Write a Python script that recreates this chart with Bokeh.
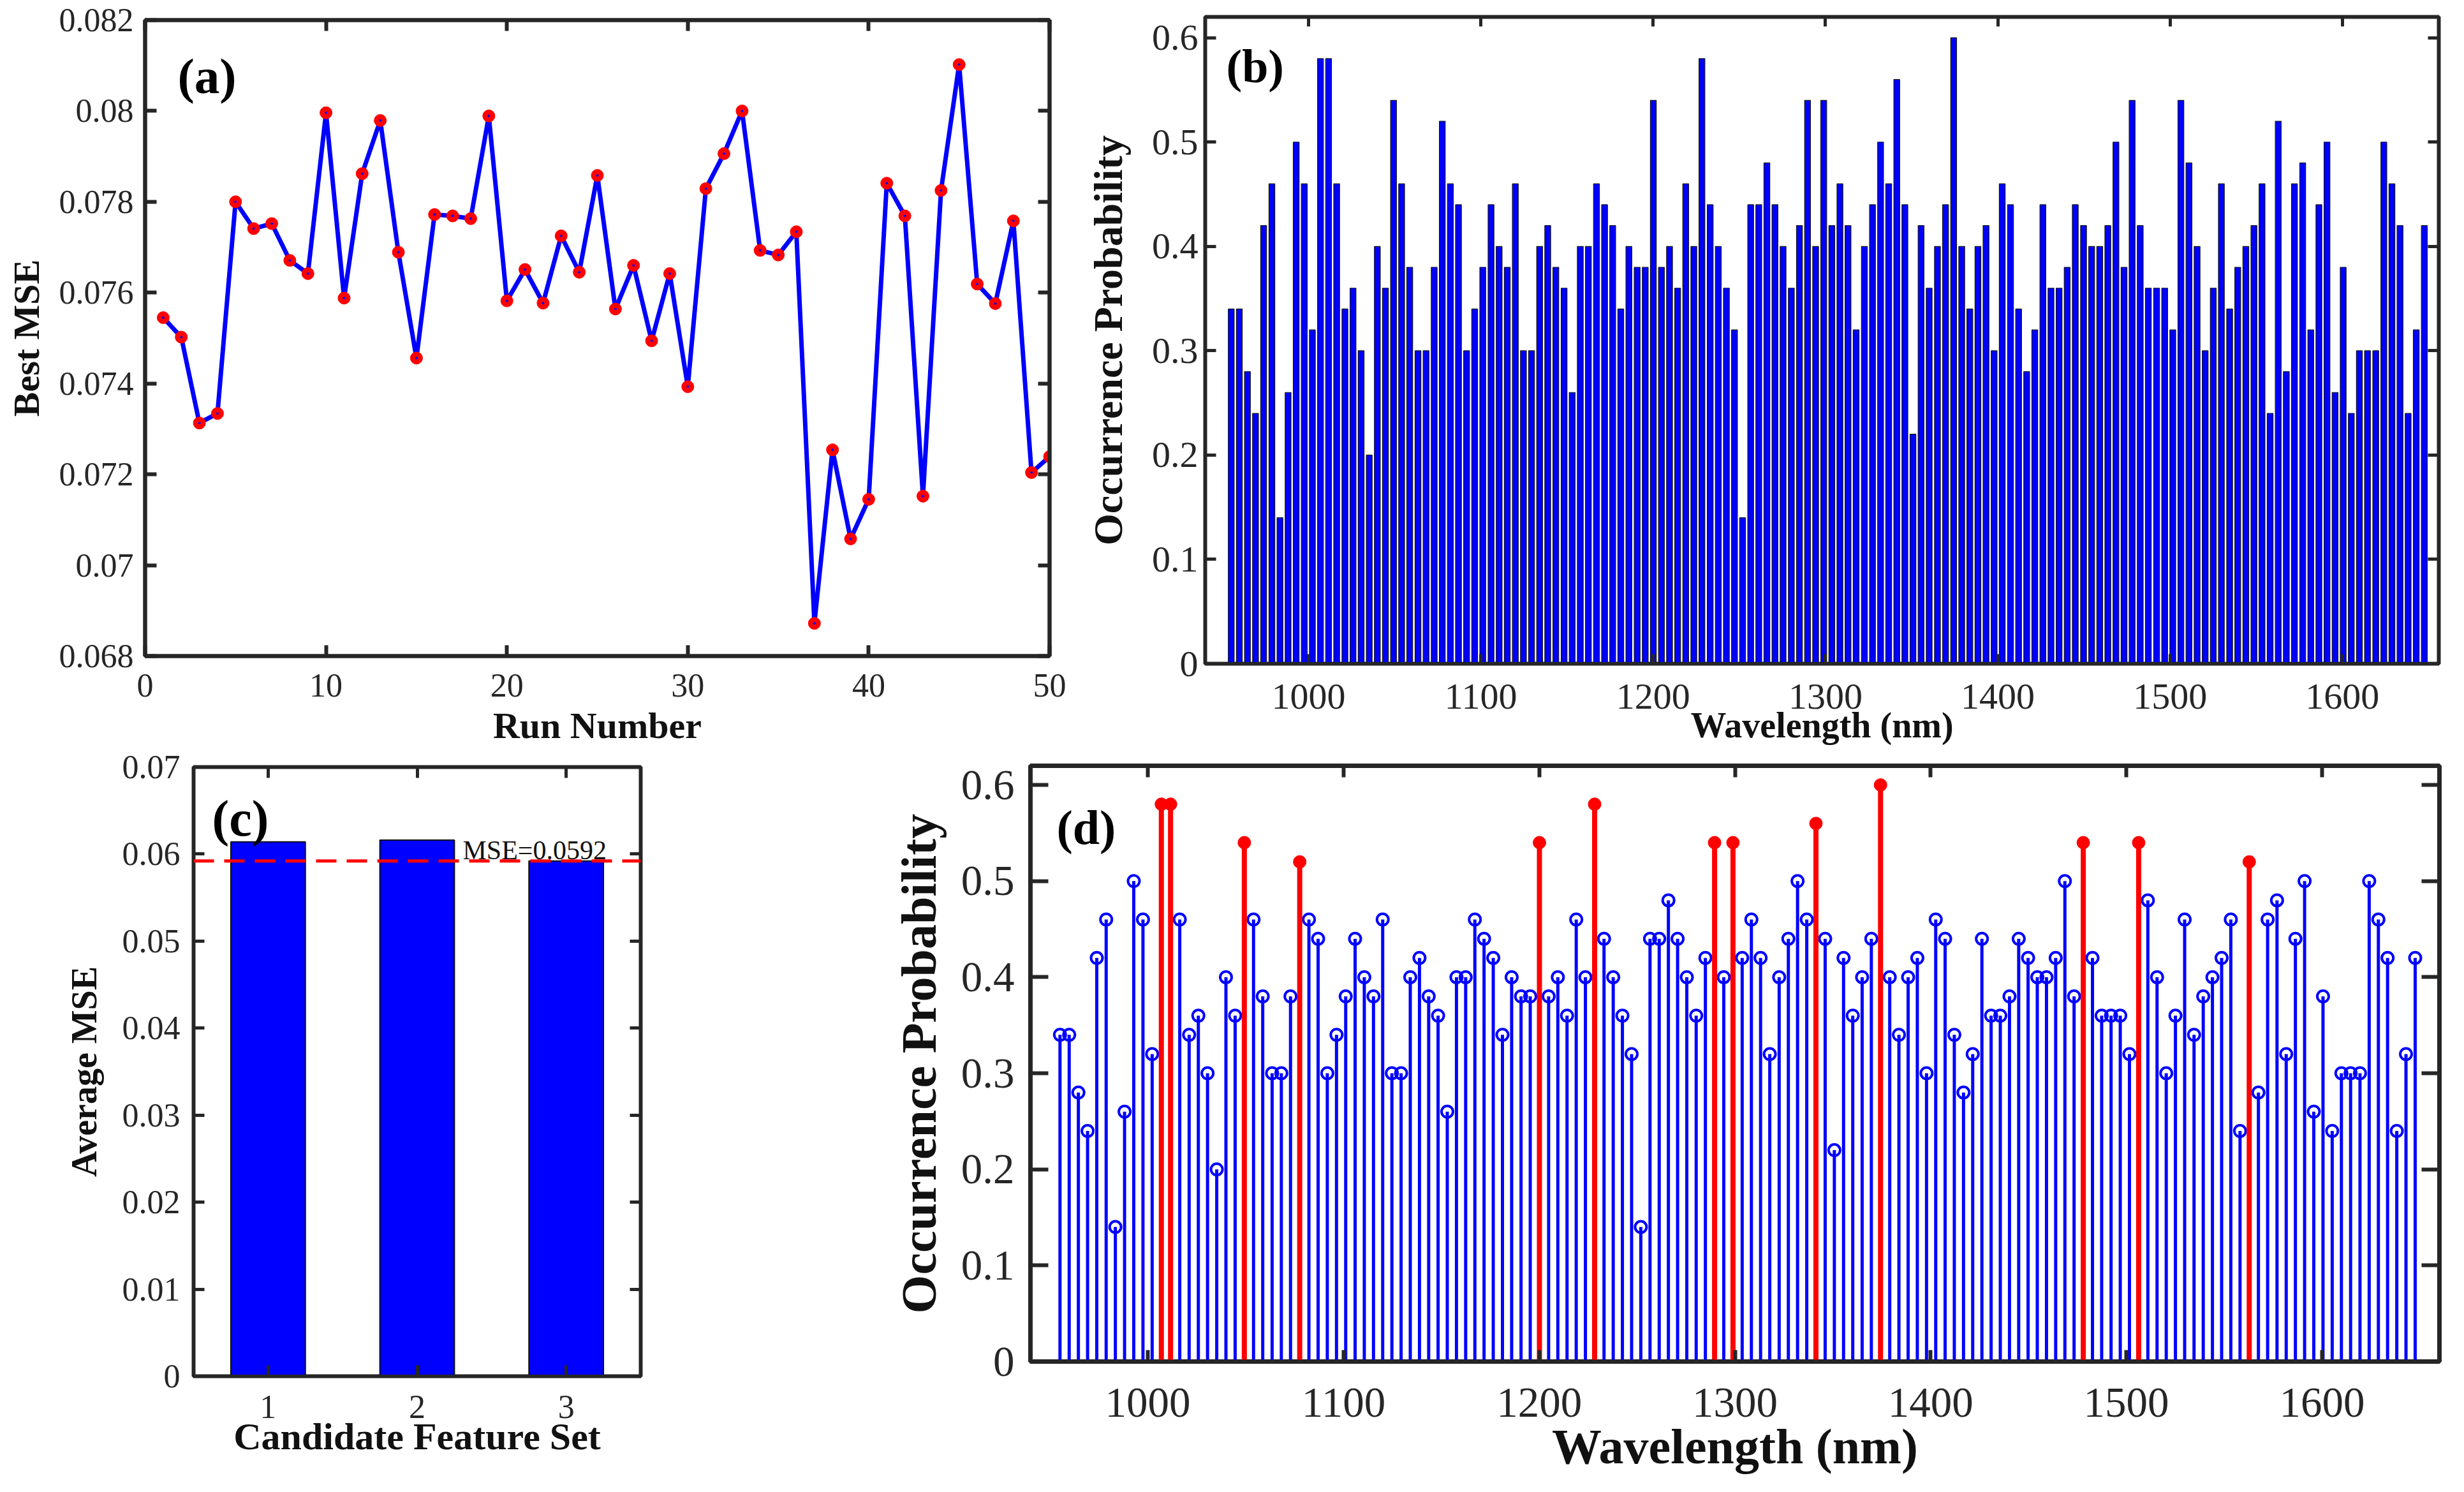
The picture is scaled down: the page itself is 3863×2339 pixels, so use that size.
from bokeh.plotting import figure
from bokeh.layouts import column, row
from bokeh.models import (LinearAxis, FixedTicker, Label, Span, ColumnDataSource,
                          Range1d, CustomJSTickFormatter)
from bokeh.embed import file_html
from bokeh.resources import INLINE

# ---------------- data ----------------
run_number = list(range(1, 51))
best_mse = [0.07545, 0.07502, 0.07313, 0.07334, 0.07800, 0.07741, 0.07752, 0.07671, 0.07642, 0.07996,
            0.07588, 0.07862, 0.07979, 0.07689, 0.07456, 0.07772, 0.07769, 0.07763, 0.07989, 0.07582,
            0.07651, 0.07577, 0.07725, 0.07645, 0.07858, 0.07564, 0.07660, 0.07494, 0.07642, 0.07393,
            0.07829, 0.07906, 0.08000, 0.07693, 0.07683, 0.07734, 0.06872, 0.07254, 0.07058, 0.07145,
            0.07841, 0.07769, 0.07152, 0.07825, 0.08102, 0.07619, 0.07576, 0.07758, 0.07204, 0.07239]

wavelength_nm = [955.1, 959.8, 964.5, 969.2, 973.9, 978.7, 983.4, 988.1, 992.8, 997.5,
                 1002.2, 1006.9, 1011.6, 1016.3, 1021.1, 1025.8, 1030.5, 1035.2, 1039.9, 1044.6,
                 1049.3, 1054.0, 1058.7, 1063.5, 1068.2, 1072.9, 1077.6, 1082.3, 1087.0, 1091.7,
                 1096.4, 1101.1, 1105.9, 1110.6, 1115.3, 1120.0, 1124.7, 1129.4, 1134.1, 1138.8,
                 1143.5, 1148.3, 1153.0, 1157.7, 1162.4, 1167.1, 1171.8, 1176.5, 1181.2, 1185.9,
                 1190.7, 1195.4, 1200.1, 1204.8, 1209.5, 1214.2, 1218.9, 1223.6, 1228.3, 1233.1,
                 1237.8, 1242.5, 1247.2, 1251.9, 1256.6, 1261.3, 1266.0, 1270.7, 1275.4, 1280.2,
                 1284.9, 1289.6, 1294.3, 1299.0, 1303.7, 1308.4, 1313.1, 1317.8, 1322.6, 1327.3,
                 1332.0, 1336.7, 1341.4, 1346.1, 1350.8, 1355.5, 1360.2, 1365.0, 1369.7, 1374.4,
                 1379.1, 1383.8, 1388.5, 1393.2, 1397.9, 1402.6, 1407.4, 1412.1, 1416.8, 1421.5,
                 1426.2, 1430.9, 1435.6, 1440.3, 1445.0, 1449.8, 1454.5, 1459.2, 1463.9, 1468.6,
                 1473.3, 1478.0, 1482.7, 1487.4, 1492.2, 1496.9, 1501.6, 1506.3, 1511.0, 1515.7,
                 1520.4, 1525.1, 1529.8, 1534.6, 1539.3, 1544.0, 1548.7, 1553.4, 1558.1, 1562.8,
                 1567.5, 1572.2, 1577.0, 1581.7, 1586.4, 1591.1, 1595.8, 1600.5, 1605.2, 1609.9,
                 1614.6, 1619.4, 1624.1, 1628.8, 1633.5, 1638.2, 1642.9, 1647.6]

occurrence_prob = [0.34, 0.34, 0.28, 0.24, 0.42, 0.46, 0.14, 0.26, 0.50, 0.46,
                   0.32, 0.58, 0.58, 0.46, 0.34, 0.36, 0.30, 0.20, 0.40, 0.36,
                   0.54, 0.46, 0.38, 0.30, 0.30, 0.38, 0.52, 0.46, 0.44, 0.30,
                   0.34, 0.38, 0.44, 0.40, 0.38, 0.46, 0.30, 0.30, 0.40, 0.42,
                   0.38, 0.36, 0.26, 0.40, 0.40, 0.46, 0.44, 0.42, 0.34, 0.40,
                   0.38, 0.38, 0.54, 0.38, 0.40, 0.36, 0.46, 0.40, 0.58, 0.44,
                   0.40, 0.36, 0.32, 0.14, 0.44, 0.44, 0.48, 0.44, 0.40, 0.36,
                   0.42, 0.54, 0.40, 0.54, 0.42, 0.46, 0.42, 0.32, 0.40, 0.44,
                   0.50, 0.46, 0.56, 0.44, 0.22, 0.42, 0.36, 0.40, 0.44, 0.60,
                   0.40, 0.34, 0.40, 0.42, 0.30, 0.46, 0.44, 0.34, 0.28, 0.32,
                   0.44, 0.36, 0.36, 0.38, 0.44, 0.42, 0.40, 0.40, 0.42, 0.50,
                   0.38, 0.54, 0.42, 0.36, 0.36, 0.36, 0.32, 0.54, 0.48, 0.40,
                   0.30, 0.36, 0.46, 0.34, 0.38, 0.40, 0.42, 0.46, 0.24, 0.52,
                   0.28, 0.46, 0.48, 0.32, 0.44, 0.50, 0.26, 0.38, 0.24, 0.30,
                   0.30, 0.30, 0.50, 0.46, 0.42, 0.24, 0.32, 0.42]

selection_threshold = 0.5

candidate_sets = [1, 2, 3]
average_mse = [0.0614, 0.0616, 0.0592]
mse_reference = 0.0592
mse_reference_label = "MSE=0.0592"

a_xticks = [0, 10, 20, 30, 40, 50]
a_yticks = [0.068, 0.070, 0.072, 0.074, 0.076, 0.078, 0.080, 0.082]
b_xticks = [1000, 1100, 1200, 1300, 1400, 1500, 1600]
b_yticks = [0, 0.1, 0.2, 0.3, 0.4, 0.5, 0.6]
c_xticks = [1, 2, 3]
c_yticks = [0, 0.01, 0.02, 0.03, 0.04, 0.05, 0.06, 0.07]

# ---------------- style helpers ----------------
FONT = "Liberation Serif"
AX = "#262626"
BLUE = "#0000FF"
RED = "#FF0000"


def make_fig(w, h, bl, br, bt, bb, xr, yr, lw):
    p = figure(width=w, height=h, x_range=Range1d(*xr), y_range=Range1d(*yr),
               output_backend="svg", toolbar_location=None,
               min_border_left=bl, min_border_right=br,
               min_border_top=bt, min_border_bottom=bb)
    p.xgrid.visible = False
    p.ygrid.visible = False
    p.outline_line_color = AX
    p.outline_line_width = lw
    p.outline_line_alpha = 1.0
    p.background_fill_color = "white"
    p.border_fill_color = "white"
    return p


def style_axes(p, xticks, yticks, xtick_size, ytick_size, xlabel, ylabel, xlab_size, ylab_size,
               xtick_len, ytick_len, lw, xstand, xlstand, ystand, ylstand):
    fmt = CustomJSTickFormatter(code="return String(parseFloat(tick.toFixed(4)));")
    specs = [(p.xaxis[0], xticks, xlabel, xlab_size, xtick_size, xtick_len, xstand, xlstand),
             (p.yaxis[0], yticks, ylabel, ylab_size, ytick_size, ytick_len, ystand, ylstand)]
    for ax, ticks, lab, lsize, tsize, tlen, st, lst in specs:
        ax.ticker = FixedTicker(ticks=ticks)
        ax.formatter = fmt
        ax.axis_label = lab
        ax.axis_label_text_font = FONT
        ax.axis_label_text_font_style = "bold"
        ax.axis_label_text_font_size = f"{lsize}px"
        ax.axis_label_text_color = "#111111"
        ax.axis_label_standoff = lst
        ax.major_label_text_font = FONT
        ax.major_label_text_font_size = f"{tsize}px"
        ax.major_label_text_color = AX
        ax.major_label_standoff = st
        ax.major_tick_in = tlen
        ax.major_tick_out = 0
        ax.major_tick_line_width = lw
        ax.major_tick_line_color = AX
        ax.minor_tick_line_color = None
        ax.axis_line_color = AX
        ax.axis_line_width = lw
    # mirrored ticks on the top and right edges (box on), no labels
    for loc, ticks, tlen in (("above", xticks, xtick_len), ("right", yticks, ytick_len)):
        ax = LinearAxis(ticker=FixedTicker(ticks=ticks), formatter=fmt,
                        major_label_text_alpha=0, major_label_text_font_size="10px",
                        major_label_standoff=0,
                        major_tick_in=tlen, major_tick_out=0,
                        major_tick_line_width=lw, major_tick_line_color=AX,
                        minor_tick_line_color=None,
                        axis_line_color=AX, axis_line_width=lw)
        p.add_layout(ax, loc)


def panel_letter(p, text, x, y, size):
    p.add_layout(Label(x=x, y=y, text=text, text_font=FONT, text_font_style="bold",
                       text_font_size=f"{size}px", text_color="black",
                       text_baseline="alphabetic", text_align="left"))


# ---------------- (a) ----------------
pa = make_fig(1692, 1172, 227, 47, 31, 139, (0, 50), (0.068, 0.082), 6)
src_a = ColumnDataSource(dict(x=run_number, y=best_mse))
pa.line("x", "y", source=src_a, line_color=BLUE, line_width=7)
pa.scatter("x", "y", source=src_a, size=19, fill_color=RED, line_color=RED)
pa.scatter("x", "y", source=src_a, size=3, fill_color=BLUE, line_color=BLUE)
style_axes(pa, a_xticks, a_yticks, 52, 52, "Run Number", "Best MSE", 58, 58,
           17, 18, 6, 28, 10, 18, 16)
panel_letter(pa, "(a)", 51 / 1418 * 50, 0.082 - 88 / 1002 * 0.014, 79)

# ---------------- (b) ----------------
b_xr = (940, 1656)
pb = make_fig(2155, 1172, 197, 24, 26, 132, b_xr, (0, 0.62), 6)
src_b = ColumnDataSource(dict(x=wavelength_nm, top=occurrence_prob))
pb.vbar(x="x", top="top", width=3.4, bottom=0, source=src_b,
        fill_color=BLUE, line_color="#141414", line_width=1.2)
style_axes(pb, b_xticks, b_yticks, 58, 58, "Wavelength (nm)", "Occurrence Probability", 56, 64,
           15, 17, 5, 32, -8, 11, 30)
panel_letter(pb, "(b)", b_xr[0] + 33 / 1934 * (b_xr[1] - b_xr[0]), 0.62 - 77 / 1014 * 0.62, 74)

# ---------------- (c) ----------------
pc = make_fig(1092, 1151, 303, 88, 30, 166, (0.5, 3.5), (0, 0.07), 6)
src_c = ColumnDataSource(dict(x=candidate_sets, top=average_mse))
pc.vbar(x="x", top="top", width=0.5, bottom=0, source=src_c,
        fill_color=BLUE, line_color="#111111", line_width=2)
pc.add_layout(Span(location=mse_reference, dimension="width", line_color=RED,
                   line_width=5, line_dash="32 16"))
pc.add_layout(Label(x=0.5 + 422 / 701 * 3, y=0.0604, text=mse_reference_label,
                    text_font=FONT, text_font_size="42px", text_color="#111111",
                    text_baseline="alphabetic"))
style_axes(pc, c_xticks, c_yticks, 52, 52, "Candidate Feature Set", "Average MSE", 60, 56,
           17, 17, 5, 30, -7, 21, 26)
panel_letter(pc, "(c)", 0.5 + 29 / 701 * 3, 0.07 - 80 / 955 * 0.07, 80)

# ---------------- (d) ----------------
d_xr = (940, 1660)
pd_ = make_fig(2755, 1151, 523, 23, 28, 189, d_xr, (0, 0.62), 7)
sel = [v > selection_threshold for v in occurrence_prob]
src_blue = ColumnDataSource(dict(x=[w for w, s in zip(wavelength_nm, sel) if not s],
                                 y=[v for v, s in zip(occurrence_prob, sel) if not s]))
src_red = ColumnDataSource(dict(x=[w for w, s in zip(wavelength_nm, sel) if s],
                                y=[v for v, s in zip(occurrence_prob, sel) if s]))
pd_.segment(x0="x", y0=0, x1="x", y1="y", source=src_blue, line_color=BLUE, line_width=5)
pd_.scatter("x", "y", source=src_blue, size=18, fill_color=None, line_color=BLUE, line_width=4)
pd_.segment(x0="x", y0=0, x1="x", y1="y", source=src_red, line_color=RED, line_width=8)
pd_.scatter("x", "y", source=src_red, size=20, fill_color=RED, line_color=RED, line_width=1)
style_axes(pd_, b_xticks, b_yticks, 67, 67, "Wavelength (nm)", "Occurrence Probability", 78, 78,
           18, 28, 6, 42, 0, 25, 20)
panel_letter(pd_, "(d)", d_xr[0] + 41 / 2209 * (d_xr[1] - d_xr[0]), 0.62 - 96 / 934 * 0.62, 76)

layout = column(row(column(pa), column(pb)), row(column(pc), column(pd_)))
open("out.html", "w").write(file_html(layout, INLINE))
